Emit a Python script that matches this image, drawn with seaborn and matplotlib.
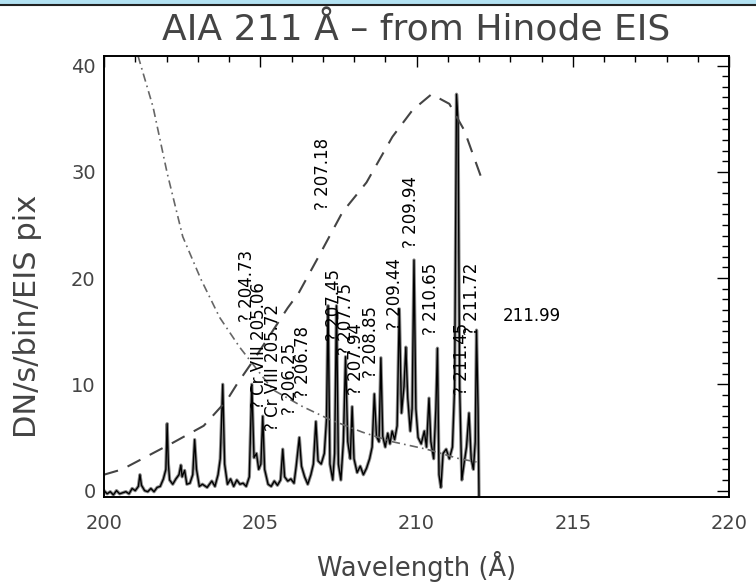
import matplotlib
matplotlib.use("Agg")
import matplotlib.pyplot as plt
import seaborn as sns
import pandas as pd
from matplotlib.patches import Rectangle
from matplotlib.lines import Line2D
from matplotlib.ticker import MultipleLocator

# ---------------- data ----------------
spec_wave = [200.00, 200.10, 200.20, 200.30, 200.40, 200.50, 200.60, 200.70, 200.80, 200.90,
             201.00, 201.10, 201.15, 201.20, 201.30, 201.40, 201.50, 201.60, 201.70, 201.80,
             201.90, 201.98, 202.02, 202.06, 202.10, 202.20, 202.30, 202.40, 202.46, 202.50,
             202.58, 202.65, 202.75, 202.84, 202.90, 202.96, 203.05, 203.15, 203.30, 203.45,
             203.55, 203.65, 203.72, 203.80, 203.86, 203.95, 204.05, 204.15, 204.25, 204.35,
             204.45, 204.55, 204.65, 204.73, 204.80, 204.88, 204.95, 205.02, 205.08, 205.14,
             205.25, 205.35, 205.45, 205.55, 205.65, 205.72, 205.78, 205.88, 205.98, 206.08,
             206.15, 206.25, 206.32, 206.42, 206.52, 206.62, 206.70, 206.78, 206.85, 206.95,
             207.05, 207.12, 207.17, 207.23, 207.32, 207.38, 207.44, 207.50, 207.58, 207.66,
             207.73, 207.80, 207.88, 207.94, 208.00, 208.10, 208.20, 208.30, 208.40, 208.50,
             208.58, 208.65, 208.72, 208.80, 208.86, 208.92, 209.00, 209.08, 209.15, 209.22,
             209.30, 209.38, 209.45, 209.52, 209.60, 209.66, 209.72, 209.80, 209.86, 209.92,
             209.98, 210.05, 210.15, 210.25, 210.32, 210.40, 210.46, 210.55, 210.62, 210.67,
             210.72, 210.78, 210.85, 210.95, 211.05, 211.15, 211.22, 211.28, 211.33, 211.38,
             211.45, 211.52, 211.60, 211.68, 211.75, 211.82, 211.88, 211.92, 211.97, 212.00]
spec_flux = [0.0, -0.3, -0.1, -0.4, 0.0, -0.3, -0.2, -0.1, -0.3, 0.2,
             0.0, 0.4, 1.5, 0.5, 0.0, -0.1, 0.2, -0.1, 0.3, 0.4,
             1.1, 2.0, 6.3, 2.5, 1.0, 0.6, 1.1, 1.5, 2.4, 1.3,
             1.9, 0.6, 0.7, 1.5, 4.8, 2.0, 0.4, 0.6, 0.3, 0.9,
             0.4, 1.5, 3.0, 10.0, 2.5, 0.6, 1.1, 0.4, 1.0, 0.6,
             0.7, 0.4, 1.3, 10.0, 3.1, 3.5, 2.0, 2.5, 7.0, 2.0,
             0.6, 0.4, 0.9, 0.5, 1.0, 3.9, 1.3, 0.9, 1.1, 0.7,
             2.3, 5.0, 2.3, 1.3, 0.6, 1.5, 2.5, 6.5, 2.8, 2.5,
             3.5, 6.7, 17.4, 2.5, 1.0, 3.5, 17.4, 2.5, 1.0, 4.6,
             12.6, 4.6, 3.0, 7.9, 3.0, 1.7, 2.3, 1.5, 2.1, 3.0,
             4.1, 9.1, 5.1, 4.6, 12.5, 5.1, 4.1, 5.4, 4.4, 5.6,
             4.8, 6.1, 17.1, 7.3, 9.8, 13.5, 8.7, 5.6, 7.7, 21.7,
             7.7, 5.0, 4.4, 5.6, 4.1, 8.7, 4.6, 3.0, 7.7, 13.4,
             1.5, 0.3, 3.5, 3.9, 3.0, 4.1, 9.8, 37.3, 34.7, 9.8,
             1.0, 2.5, 4.1, 7.3, 3.0, 2.0, 4.6, 15.1, 7.7, -0.6]

resp_wave = [200.00, 200.58, 202.20, 203.19, 203.93, 204.25, 204.79, 205.88, 206.23,
             206.90, 207.63, 208.40, 209.23, 209.87, 210.48, 211.05, 211.53, 212.08]
resp_val = [1.5, 2.0, 4.5, 6.1, 8.5, 10.0, 12.3, 17.2, 18.6,
            22.2, 26.2, 29.0, 33.3, 35.8, 37.3, 36.4, 33.9, 29.4]

other_wave = [201.09, 201.57, 202.02, 202.52, 203.10, 203.70, 204.34, 205.40, 206.36,
              207.22, 208.27, 209.23, 210.32, 211.37, 211.92]
other_val = [40.9, 36.1, 29.9, 23.9, 19.9, 16.3, 13.5, 9.5, 7.9,
             6.7, 5.5, 4.6, 3.9, 3.0, 2.7]

line_labels = ["? 204.73", "? Cr VIII 205.06", "? Cr VIII 205.72", "? 206.25", "? 206.78",
               "? 207.18", "? 207.45", "? 207.75", "? 207.94", "? 208.85", "? 209.44",
               "? 209.94", "? 210.65", "? 211.45", "? 211.72"]
label_wave = [204.57, 204.95, 205.40, 205.94, 206.36, 207.00, 207.35, 207.73, 208.05,
              208.56, 209.30, 209.84, 210.45, 211.47, 211.79]
label_base = [15.9, 7.7, 5.6, 7.1, 8.7, 26.4, 14.1, 12.8, 9.0,
              10.6, 15.1, 22.8, 14.6, 9.0, 14.6]
side_label = "211.99"
side_wave = 212.75
side_val = 16.4

title_text = "AIA 211 Å – from Hinode EIS"
xlabel_text = "Wavelength (Å)"
ylabel_text = "DN/s/bin/EIS pix"

# ---------------- plotting ----------------
sns.set_style("white")
plt.rcParams['font.family'] = ['DejaVu Sans']

W, H = 756, 582
fig = plt.figure(figsize=(W / 100, H / 100), dpi=100)
ax = fig.add_axes([104 / W, 1 - 497 / H, 625 / W, 441 / H])

spec_df = pd.DataFrame({"wave": spec_wave, "flux": spec_flux})
resp_df = pd.DataFrame({"wave": resp_wave, "val": resp_val})
other_df = pd.DataFrame({"wave": other_wave, "val": other_val})

sns.lineplot(data=spec_df, x="wave", y="flux", ax=ax, color="#8c8c8c", lw=2.4,
             sort=False, estimator=None)
sns.lineplot(data=spec_df, x="wave", y="flux", ax=ax, color="black", lw=1.0,
             sort=False, estimator=None)
sns.lineplot(data=resp_df, x="wave", y="val", ax=ax, color="#444444", lw=1.5,
             sort=False, estimator=None)
ax.lines[-1].set_dashes((7, 5))
sns.lineplot(data=other_df, x="wave", y="val", ax=ax, color="#666666", lw=1.2,
             sort=False, estimator=None)
ax.lines[-1].set_dashes((5, 2.5, 1, 2.5))

for txt, xw, yb in zip(line_labels, label_wave, label_base):
    ax.text(xw, yb, txt, rotation=90, ha="center", va="bottom", fontsize=12, color="black")
ax.text(side_wave, side_val, side_label, ha="left", va="center", fontsize=12, color="black")

ax.set_xlim(200, 220)
ax.set_ylim(-0.6, 40.9)
ax.set_xlabel("")
ax.set_ylabel("")
ax.xaxis.set_major_locator(MultipleLocator(5))
ax.xaxis.set_minor_locator(MultipleLocator(1))
ax.yaxis.set_major_locator(MultipleLocator(10))
ax.yaxis.set_minor_locator(MultipleLocator(1))
ax.tick_params(axis="both", which="both", direction="in", top=True, right=True,
               colors="black", labelcolor="#444444", width=1.0)
ax.tick_params(axis="x", which="major", length=8, pad=12, labelsize=14)
ax.tick_params(axis="x", which="minor", length=4)
ax.tick_params(axis="y", which="major", length=9, pad=6, labelsize=14)
ax.tick_params(axis="y", which="minor", length=5)
for s in ax.spines.values():
    s.set_color("black")
    s.set_linewidth(1.4)

fig.text(416 / W, 1 - 30 / H, title_text, ha="center", va="center", fontsize=26, color="#444444")
fig.text(417 / W, 1 - 566 / H, xlabel_text, ha="center", va="center", fontsize=18.5, color="#444444")
fig.text(28 / W, 1 - 316 / H, ylabel_text, ha="center", va="center", fontsize=22,
         color="#444444", rotation=90)

# window-like top band
fig.patches.append(Rectangle((0, 1 - 3.5 / H), 1, 3.5 / H, transform=fig.transFigure,
                             facecolor="#b3e2f2", edgecolor="none", zorder=10))
fig.lines.append(Line2D([0, 1], [1 - 4.5 / H, 1 - 4.5 / H], transform=fig.transFigure,
                        color="#222222", lw=1.5, zorder=11))

fig.savefig("out.png", dpi=100)
